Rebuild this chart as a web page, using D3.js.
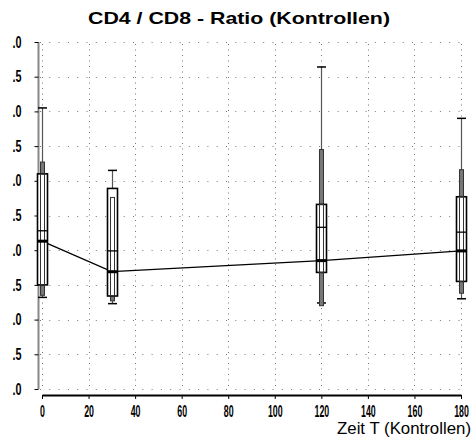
<!DOCTYPE html>
<html>
<head>
<meta charset="utf-8">
<script src="https://cdn.jsdelivr.net/npm/d3@7"></script>
<style>
  body { margin: 0; background: #fff; }
  svg { display: block; }
</style>
</head>
<body>
<svg width="474" height="448"></svg>
<script>
// box plot values per time point
const times = [0, 30, 120, 180];
const whiskerHigh = [4.05, 3.15, 4.64, 3.90];
const innerHigh = [3.27, 2.76, 3.45, 3.16];
const boxHigh = [3.10, 2.89, 2.66, 2.77];
const medians = [2.28, 1.99, 2.33, 2.26];
const means = [2.13, 1.69, 1.85, 1.99];
const boxLow = [1.50, 1.34, 1.68, 1.55];
const innerLow = [1.35, 1.27, 1.20, 1.38];
const whiskerLow = [1.32, 1.23, 1.24, 1.30];

const yTicks = [0, 0.5, 1, 1.5, 2, 2.5, 3, 3.5, 4, 4.5, 5];
const yTickLabels = ['.0', '.5', '.0', '.5', '.0', '.5', '.0', '.5', '.0', '.5', '.0'];
const xTicks = [0, 20, 40, 60, 80, 100, 120, 140, 160, 180];

const svg = d3.select('svg');

const x = d3.scaleLinear().domain([0, 180]).range([42, 461]);
const y = d3.scaleLinear().domain([0, 5]).range([389, 42]);

const rows = times.map((t, i) => ({
  t,
  wh: whiskerHigh[i], ih: innerHigh[i], bh: boxHigh[i],
  med: medians[i], mean: means[i],
  bl: boxLow[i], il: innerLow[i], wl: whiskerLow[i]
}));

// title
svg.append('text')
  .attr('x', 239).attr('y', 24)
  .attr('text-anchor', 'middle')
  .attr('font-family', 'Liberation Sans, Arial, sans-serif')
  .attr('font-weight', 'bold')
  .attr('font-size', 17)
  .attr('textLength', 302)
  .attr('lengthAdjust', 'spacingAndGlyphs')
  .text('CD4 / CD8 - Ratio (Kontrollen)');

// dotted grid
const grid = svg.append('g').attr('stroke', '#777').attr('stroke-width', 1);
grid.selectAll('.hg')
  .data(yTicks)
  .enter()
  .append('line')
  .attr('x1', 40).attr('x2', 462)
  .attr('y1', d => Math.round(y(d)) + 0.5).attr('y2', d => Math.round(y(d)) + 0.5)
  .attr('stroke-dasharray', '1,8.3');
grid.selectAll('.vg')
  .data(xTicks)
  .enter()
  .append('line')
  .attr('x1', d => Math.round(x(d)) + 0.5).attr('x2', d => Math.round(x(d)) + 0.5)
  .attr('y1', 44).attr('y2', 389)
  .attr('stroke-dasharray', '1,4.5');

// y axis
const yAxis = d3.axisLeft(y)
  .tickValues(yTicks)
  .tickSize(4)
  .tickPadding(13)
  .tickFormat((d, i) => yTickLabels[i]);
const yg = svg.append('g').attr('transform', 'translate(38.5,0)').call(yAxis);
yg.attr('font-family', 'Liberation Sans, Arial, sans-serif').attr('font-size', 16).attr('font-weight', 'bold');
yg.select('.domain').attr('stroke', '#888').attr('stroke-width', 2).attr('d', `M0,${y(5)}V${y(0)}`);
yg.selectAll('.tick line').attr('stroke', '#000');
yg.selectAll('.tick text')
  .attr('fill', '#000')
  .attr('textLength', 9)
  .attr('lengthAdjust', 'spacingAndGlyphs');

// x axis
const xAxis = d3.axisBottom(x)
  .tickValues(xTicks)
  .tickSize(4)
  .tickSizeOuter(0)
  .tickPadding(7);
const xg = svg.append('g').attr('transform', 'translate(0,395)').call(xAxis);
xg.attr('font-family', 'Liberation Sans, Arial, sans-serif').attr('font-size', 16).attr('font-weight', 'bold');
xg.select('.domain').attr('stroke', '#000').attr('stroke-width', 2);
xg.selectAll('.tick text')
  .attr('fill', '#000')
  .attr('textLength', d => String(d).length * 4.9)
  .attr('lengthAdjust', 'spacingAndGlyphs');

svg.append('text')
  .attr('x', 471).attr('y', 434)
  .attr('text-anchor', 'end')
  .attr('font-family', 'Liberation Sans, Arial, sans-serif')
  .attr('font-size', 17)
  .attr('textLength', 134)
  .attr('lengthAdjust', 'spacingAndGlyphs')
  .text('Zeit T (Kontrollen)');

// mean connecting line
const meanLine = d3.line().x(d => x(d.t)).y(d => y(d.mean));
svg.append('path')
  .datum(rows)
  .attr('d', meanLine)
  .attr('fill', 'none')
  .attr('stroke', '#000')
  .attr('stroke-width', 1.3);

// boxes
const boxes = svg.selectAll('.box')
  .data(rows)
  .enter()
  .append('g')
  .attr('transform', d => `translate(${Math.round(x(d.t))},0)`);

// whiskers
boxes.append('line')
  .attr('x1', 0.5).attr('x2', 0.5)
  .attr('y1', d => y(d.wh)).attr('y2', d => y(d.wl))
  .attr('stroke', '#555').attr('stroke-width', 1.2);
boxes.append('line')
  .attr('x1', -4).attr('x2', 5)
  .attr('y1', d => y(d.wh)).attr('y2', d => y(d.wh))
  .attr('stroke', '#000').attr('stroke-width', 1.5);
boxes.append('line')
  .attr('x1', -4).attr('x2', 5)
  .attr('y1', d => y(d.wl)).attr('y2', d => y(d.wl))
  .attr('stroke', '#000').attr('stroke-width', 1.5);

// inner box (filled)
boxes.append('rect')
  .attr('x', -1.5).attr('width', 4)
  .attr('y', d => y(d.ih)).attr('height', d => y(d.il) - y(d.ih))
  .attr('fill', '#777').attr('stroke', '#333').attr('stroke-width', 1);

// outer box
boxes.append('rect')
  .attr('x', -4.5).attr('width', 10)
  .attr('y', d => y(d.bh)).attr('height', d => y(d.bl) - y(d.bh))
  .attr('fill', '#fff').attr('stroke', '#000').attr('stroke-width', 1.6);

// inner box outline shows through the outer box
boxes.append('rect')
  .attr('x', -1.5).attr('width', 4)
  .attr('y', d => y(Math.min(d.ih, d.bh))).attr('height', d => y(Math.max(d.il, d.bl)) - y(Math.min(d.ih, d.bh)))
  .attr('fill', 'none').attr('stroke', '#333').attr('stroke-width', 1);

// median
boxes.append('line')
  .attr('x1', -4.5).attr('x2', 5.5)
  .attr('y1', d => y(d.med)).attr('y2', d => y(d.med))
  .attr('stroke', '#000').attr('stroke-width', 1.3);

// mean
boxes.append('line')
  .attr('x1', -4.5).attr('x2', 5.5)
  .attr('y1', d => y(d.mean)).attr('y2', d => y(d.mean))
  .attr('stroke', '#000').attr('stroke-width', 3);
</script>
</body>
</html>
